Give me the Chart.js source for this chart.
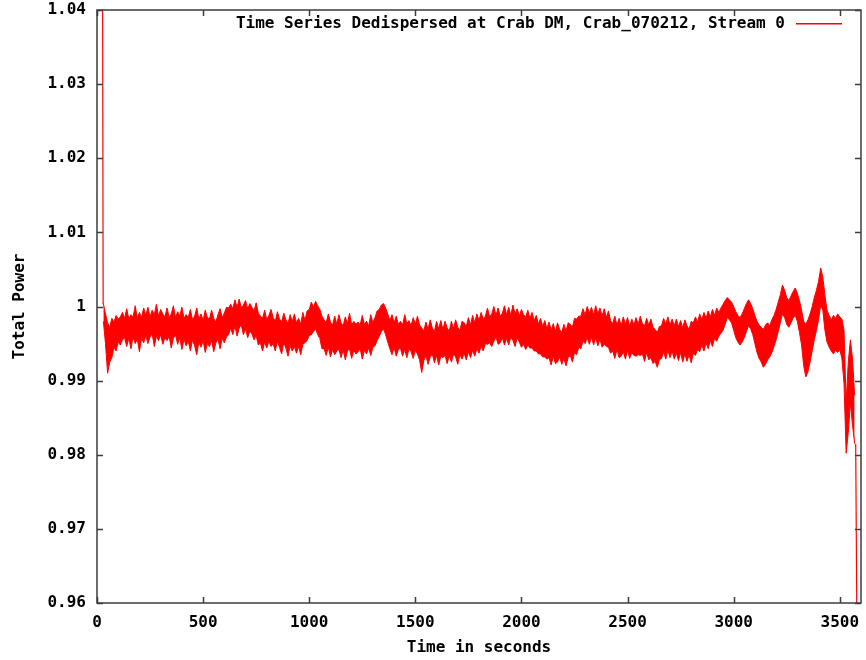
<!DOCTYPE html>
<html>
<head>
<meta charset="utf-8">
<script src="https://cdn.jsdelivr.net/npm/chart.js@4.4.1/dist/chart.umd.min.js"></script>
<style>
  body { margin: 0; background: #fff; }
  #wrap { width: 866px; height: 660px; }
</style>
</head>
<body>
<div id="wrap"><canvas id="myChart" width="866" height="660"></canvas></div>
<script>
const seriesLabel = "Time Series Dedispersed at Crab DM, Crab_070212, Stream 0"

// noise band, one sample every 10 s starting at 30 s
const sampleStart = 30
const sampleStep = 10
const upperEnv = [
  1.0004, 0.9990, 0.9978, 0.9972, 0.9984, 0.9979, 0.9988, 0.9983, 0.9986, 0.9992,
  0.9984, 0.9997, 0.9983, 0.9989, 0.9986, 1.0001, 0.9984, 0.9992, 0.9985, 0.9998,
  0.9988, 0.9999, 0.9986, 0.9995, 0.9989, 1.0003, 0.9987, 0.9996, 0.9990, 0.9986,
  0.9998, 0.9985, 0.9990, 1.0001, 0.9985, 0.9993, 0.9987, 0.9999, 0.9984, 0.9989,
  0.9985, 0.9996, 0.9982, 0.9987, 0.9998, 0.9983, 0.9990, 0.9981, 0.9995, 0.9985,
  0.9983, 0.9995, 0.9984, 0.9979, 0.9989, 0.9997, 0.9985, 0.9991, 0.9999, 0.9998,
  1.0003, 0.9997, 1.0009, 0.9999, 1.0010, 0.9998, 1.0002, 1.0008, 0.9997, 1.0004,
  0.9999, 0.9994, 1.0005, 0.9991, 0.9987, 0.9984, 0.9995, 0.9982, 0.9988, 0.9996,
  0.9985, 0.9980, 0.9993, 0.9983, 0.9979, 0.9991, 0.9982, 0.9977, 0.9989, 0.9980,
  0.9990, 0.9978, 0.9984, 0.9976, 0.9992, 0.9981, 0.9994, 0.9996, 1.0006, 0.9999,
  1.0007, 1.0001, 0.9996, 0.9987, 0.9982, 0.9978, 0.9990, 0.9979, 0.9975, 0.9987,
  0.9976, 0.9989, 0.9978, 0.9974, 0.9986, 0.9977, 0.9991, 0.9975, 0.9980, 0.9976,
  0.9979, 0.9975, 0.9988, 0.9976, 0.9980, 0.9974, 0.9989, 0.9978, 0.9985, 0.9994,
  0.9996, 1.0002, 1.0004, 0.9998, 0.9990, 0.9981, 0.9989, 0.9978, 0.9987, 0.9976,
  0.9980, 0.9975, 0.9989, 0.9977, 0.9981, 0.9974, 0.9985, 0.9976, 0.9987, 0.9975,
  0.9971, 0.9967, 0.9979, 0.9969, 0.9982, 0.9971, 0.9966, 0.9980, 0.9970, 0.9981,
  0.9969, 0.9980, 0.9971, 0.9967, 0.9980, 0.9970, 0.9982, 0.9972, 0.9968, 0.9980,
  0.9978, 0.9973, 0.9985, 0.9975, 0.9988, 0.9978, 0.9990, 0.9981, 0.9992, 0.9983,
  0.9987, 0.9998, 0.9986, 0.9990, 1.0000, 0.9988, 0.9998, 0.9987, 0.9991, 1.0001,
  0.9989, 0.9999, 0.9988, 1.0002, 0.9990, 0.9997, 0.9987, 0.9996, 0.9989, 0.9986,
  0.9995, 0.9984, 0.9992, 0.9981, 0.9988, 0.9976, 0.9984, 0.9973, 0.9981, 0.9970,
  0.9979, 0.9968, 0.9977, 0.9966, 0.9978, 0.9969, 0.9965, 0.9976, 0.9967, 0.9978,
  0.9976, 0.9972, 0.9984, 0.9983, 0.9987, 0.9987, 0.9997, 0.9989, 1.0000, 0.9991,
  0.9999, 0.9989, 1.0001, 0.9990, 0.9998, 0.9987, 0.9997, 0.9985, 0.9994, 0.9981,
  0.9977, 0.9987, 0.9975, 0.9984, 0.9974, 0.9986, 0.9976, 0.9985, 0.9973, 0.9983,
  0.9975, 0.9985, 0.9976, 0.9987, 0.9977, 0.9974, 0.9984, 0.9975, 0.9983, 0.9972,
  0.9969, 0.9965, 0.9973, 0.9974, 0.9984, 0.9976, 0.9986, 0.9975, 0.9983, 0.9974,
  0.9983, 0.9973, 0.9981, 0.9971, 0.9982, 0.9974, 0.9969, 0.9980, 0.9978, 0.9986,
  0.9979, 0.9990, 0.9982, 0.9992, 0.9984, 0.9994, 0.9986, 0.9996, 0.9988, 0.9998,
  0.9992, 0.9998, 1.0003, 1.0008, 1.0012, 1.0009, 1.0006, 1.0000, 0.9993, 0.9988,
  0.9985, 0.9990, 0.9997, 1.0004, 1.0009, 1.0004, 0.9997, 0.9988, 0.9980, 0.9975,
  0.9972, 0.9969, 0.9975, 0.9978, 0.9974, 0.9982, 0.9988, 0.9996, 1.0006, 1.0016,
  1.0029, 1.0022, 1.0012, 1.0008, 1.0014, 1.0020, 1.0025, 1.0018, 1.0008, 0.9995,
  0.9980, 0.9976, 0.9982, 0.9990, 1.0000, 1.0012, 1.0022, 1.0034, 1.0052, 1.0040,
  1.0015, 0.9995, 0.9988, 0.9982, 0.9988, 0.9984, 0.9990, 0.9986, 0.9983, 0.9968,
  0.9870, 0.9925, 0.9955, 0.9930, 0.9880
]
const lowerEnv = [
  0.9980, 0.9950, 0.9910, 0.9925, 0.9931, 0.9945, 0.9940, 0.9952, 0.9948, 0.9955,
  0.9958, 0.9946, 0.9957, 0.9943, 0.9959, 0.9950, 0.9956, 0.9939, 0.9957, 0.9951,
  0.9961, 0.9950, 0.9959, 0.9963, 0.9946, 0.9960, 0.9954, 0.9962, 0.9949, 0.9958,
  0.9954, 0.9960, 0.9944, 0.9957, 0.9962, 0.9949, 0.9958, 0.9942, 0.9956, 0.9947,
  0.9953, 0.9940, 0.9955, 0.9947, 0.9935, 0.9952, 0.9945, 0.9954, 0.9938, 0.9950,
  0.9946, 0.9954, 0.9939, 0.9951, 0.9956, 0.9943, 0.9957, 0.9951, 0.9959, 0.9962,
  0.9971, 0.9962, 0.9974, 0.9960, 0.9971, 0.9975, 0.9962, 0.9970, 0.9958, 0.9967,
  0.9963, 0.9955, 0.9961, 0.9948, 0.9951, 0.9940, 0.9952, 0.9944, 0.9953, 0.9946,
  0.9950, 0.9940, 0.9953, 0.9945, 0.9936, 0.9951, 0.9944, 0.9933, 0.9947, 0.9940,
  0.9946, 0.9937, 0.9946, 0.9935, 0.9949, 0.9951, 0.9954, 0.9961, 0.9962, 0.9966,
  0.9970, 0.9962, 0.9957, 0.9943, 0.9943, 0.9934, 0.9945, 0.9932, 0.9942, 0.9935,
  0.9940, 0.9942, 0.9931, 0.9942, 0.9928, 0.9940, 0.9943, 0.9930, 0.9941, 0.9936,
  0.9939, 0.9943, 0.9929, 0.9941, 0.9936, 0.9944, 0.9934, 0.9945, 0.9947, 0.9954,
  0.9960, 0.9966, 0.9970, 0.9962, 0.9952, 0.9943, 0.9935, 0.9945, 0.9933, 0.9942,
  0.9944, 0.9933, 0.9942, 0.9931, 0.9943, 0.9939, 0.9930, 0.9941, 0.9936, 0.9928,
  0.9911, 0.9927, 0.9934, 0.9922, 0.9932, 0.9936, 0.9924, 0.9934, 0.9921, 0.9933,
  0.9931, 0.9934, 0.9923, 0.9934, 0.9925, 0.9936, 0.9932, 0.9922, 0.9935, 0.9929,
  0.9937, 0.9928, 0.9939, 0.9931, 0.9941, 0.9933, 0.9944, 0.9937, 0.9947, 0.9940,
  0.9950, 0.9949, 0.9951, 0.9946, 0.9953, 0.9959, 0.9949, 0.9951, 0.9958, 0.9948,
  0.9957, 0.9948, 0.9959, 0.9954, 0.9946, 0.9958, 0.9952, 0.9945, 0.9949, 0.9942,
  0.9948, 0.9944, 0.9944, 0.9940, 0.9940, 0.9936, 0.9936, 0.9932, 0.9932, 0.9929,
  0.9931, 0.9921, 0.9933, 0.9923, 0.9925, 0.9932, 0.9922, 0.9930, 0.9920, 0.9931,
  0.9934, 0.9925, 0.9938, 0.9935, 0.9945, 0.9943, 0.9953, 0.9950, 0.9958, 0.9949,
  0.9959, 0.9948, 0.9958, 0.9947, 0.9956, 0.9945, 0.9949, 0.9946, 0.9945, 0.9937,
  0.9940, 0.9930, 0.9942, 0.9931, 0.9933, 0.9939, 0.9929, 0.9941, 0.9930, 0.9938,
  0.9934, 0.9933, 0.9935, 0.9934, 0.9936, 0.9926, 0.9938, 0.9928, 0.9931, 0.9923,
  0.9926, 0.9918, 0.9928, 0.9930, 0.9939, 0.9929, 0.9941, 0.9931, 0.9940, 0.9929,
  0.9937, 0.9927, 0.9938, 0.9925, 0.9936, 0.9926, 0.9935, 0.9924, 0.9937, 0.9934,
  0.9942, 0.9939, 0.9948, 0.9940, 0.9951, 0.9943, 0.9954, 0.9946, 0.9957, 0.9953,
  0.9960, 0.9964, 0.9968, 0.9976, 0.9985, 0.9982, 0.9978, 0.9968, 0.9958, 0.9952,
  0.9948, 0.9952, 0.9958, 0.9966, 0.9974, 0.9970, 0.9962, 0.9950, 0.9938, 0.9930,
  0.9925, 0.9918, 0.9922, 0.9928, 0.9932, 0.9938, 0.9946, 0.9955, 0.9966, 0.9978,
  0.9990, 0.9985, 0.9976, 0.9972, 0.9978, 0.9984, 0.9988, 0.9980, 0.9965, 0.9948,
  0.9920, 0.9905, 0.9912, 0.9925, 0.9940, 0.9955, 0.9968, 0.9982, 1.0002, 0.9995,
  0.9968, 0.9952, 0.9945, 0.9940, 0.9936, 0.9941, 0.9938, 0.9942, 0.9930, 0.9896,
  0.9802, 0.9830, 0.9870, 0.9840, 0.9815
]

// first spike at the start and the drop at the very end
const edgeTimes = [26, 29, null, 3575, 3581]
const edgeValues = [1.05, 1.0003, null, 0.9815, 0.955]

const xTicks = [0, 500, 1000, 1500, 2000, 2500, 3000, 3500]
const yTicks = [0.96, 0.97, 0.98, 0.99, 1.00, 1.01, 1.02, 1.03, 1.04]
const yTickLabels = ["0.96", "0.97", "0.98", "0.99", "1", "1.01", "1.02", "1.03", "1.04"]

const red = "#ff0000"
const frameColor = "#3c3c3c"
const monoFont = "'DejaVu Sans Mono', 'Liberation Mono', monospace"

function toPoints(values){
    return values.map((v, i) => ({ x: sampleStart + i * sampleStep, y: v }))
}

const edgePoints = edgeTimes.map((t, i) => t === null ? { x: null, y: null } : { x: t, y: edgeValues[i] })

Chart.defaults.font.family = monoFont
Chart.defaults.font.size = 16
Chart.defaults.font.weight = "bold"
Chart.defaults.color = "#000"

// gnuplot style frame with inward ticks on all four sides, plus the key
const gnuFrame = {
    id: "gnuFrame",
    afterDraw(chart){
        const ctx = chart.ctx
        const a = chart.chartArea
        const xs = chart.scales.x
        const ys = chart.scales.y
        ctx.save()
        ctx.strokeStyle = frameColor
        ctx.lineWidth = 1.5
        ctx.beginPath()
        xTicks.forEach(v => {
            const px = Math.round(xs.getPixelForValue(v)) + 0.5
            ctx.moveTo(px, a.bottom); ctx.lineTo(px, a.bottom - 6)
            ctx.moveTo(px, a.top); ctx.lineTo(px, a.top + 6)
        })
        yTicks.forEach(v => {
            const py = Math.round(ys.getPixelForValue(v)) + 0.5
            ctx.moveTo(a.left, py); ctx.lineTo(a.left + 6, py)
            ctx.moveTo(a.right, py); ctx.lineTo(a.right - 6, py)
        })
        ctx.stroke()
        ctx.strokeRect(a.left, a.top, a.right - a.left, a.bottom - a.top)

        // key
        ctx.font = "bold 16px " + monoFont
        ctx.fillStyle = "#000"
        ctx.textAlign = "right"
        ctx.textBaseline = "middle"
        ctx.fillText(seriesLabel, 785, 24)
        ctx.fillStyle = red
        ctx.fillRect(796, 23, 46, 1.5)
        ctx.restore()
    }
}

const ctx = document.getElementById("myChart").getContext("2d")
const myChart = new Chart(ctx, {
    type: "line",
    data: {
        datasets: [{
            label: seriesLabel,
            data: toPoints(upperEnv),
            borderColor: red,
            borderWidth: 1,
            pointRadius: 0,
            fill: false,
            tension: 0
        }, {
            label: seriesLabel + " (low)",
            data: toPoints(lowerEnv),
            borderColor: red,
            backgroundColor: red,
            borderWidth: 1,
            pointRadius: 0,
            fill: "-1",
            tension: 0
        }, {
            label: seriesLabel + " (edges)",
            data: edgePoints,
            borderColor: red,
            borderWidth: 1.2,
            pointRadius: 0,
            fill: false,
            spanGaps: false
        }]
    },
    options: {
        responsive: false,
        animation: false,
        layout: { padding: { top: 10, right: 5, left: 0, bottom: 0 } },
        plugins: {
            legend: { display: false },
            tooltip: { enabled: false }
        },
        scales: {
            x: {
                type: "linear",
                min: 0,
                max: 3600,
                afterBuildTicks: s => { s.ticks = xTicks.map(v => ({ value: v })) },
                afterFit: s => { s.height = 57; s.paddingLeft = 0; s.paddingRight = 0 },
                grid: { display: false, drawTicks: false },
                border: { display: false },
                ticks: { padding: 10, maxRotation: 0, autoSkip: false, callback: v => String(v) },
                title: { display: true, text: "Time in seconds", padding: { top: 0, bottom: 3 } }
            },
            y: {
                min: 0.96,
                max: 1.04,
                afterBuildTicks: s => { s.ticks = yTicks.map(v => ({ value: v })) },
                afterFit: s => { s.width = 97; s.paddingTop = 0; s.paddingBottom = 0 },
                grid: { display: false, drawTicks: false },
                border: { display: false },
                ticks: {
                    padding: 11,
                    autoSkip: false,
                    callback: (v, i) => yTickLabels[i]
                },
                title: { display: true, text: "Total Power", padding: { top: 10, bottom: 0 } }
            }
        }
    },
    plugins: [gnuFrame]
})
</script>
</body>
</html>
